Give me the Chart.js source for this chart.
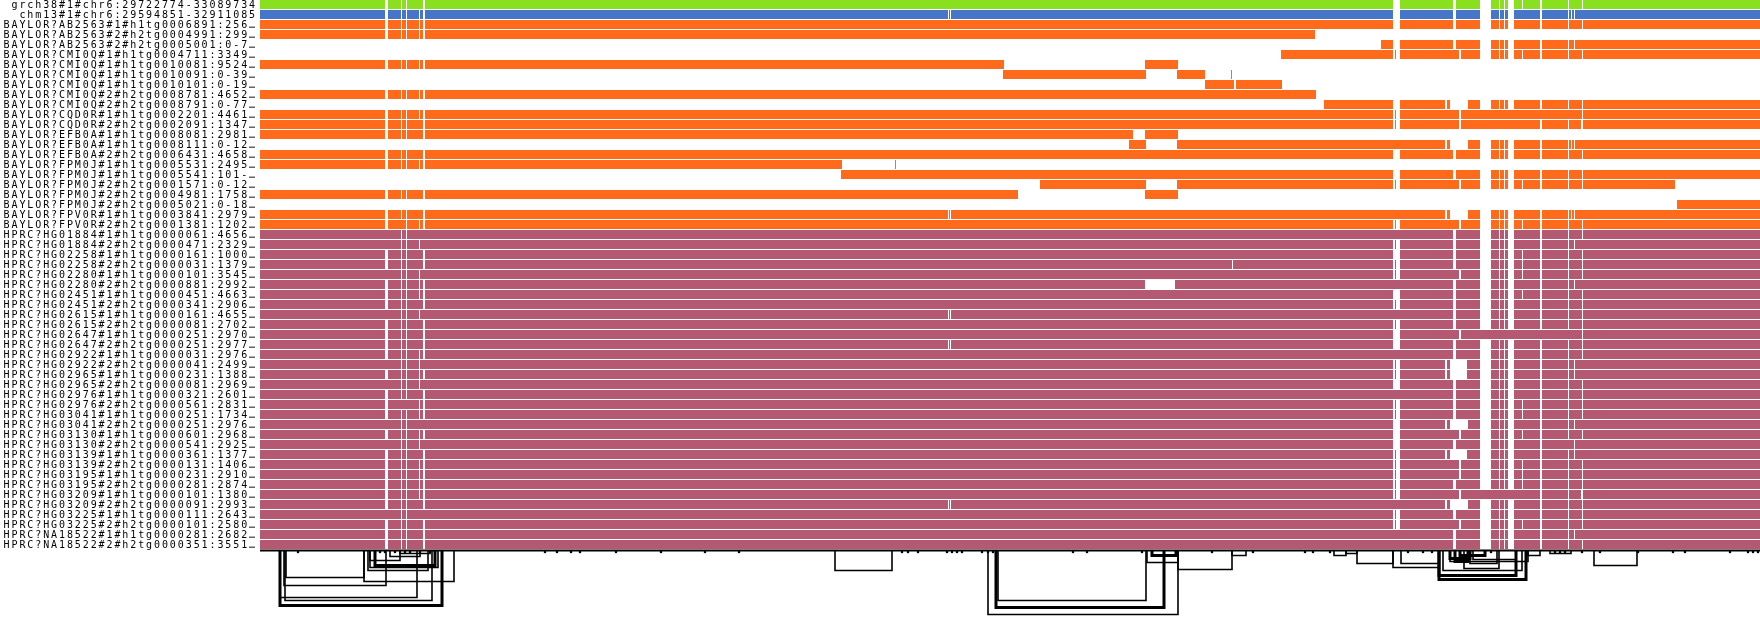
<!DOCTYPE html>
<html><head><meta charset="utf-8">
<script src="https://cdn.jsdelivr.net/npm/chart.js@4.4.1/dist/chart.umd.min.js"></script>
<style>html,body{margin:0;padding:0;background:#fff;}#wrap{width:1760px;height:619px;position:relative;}</style>
</head><body><div id="wrap"><canvas id="c" width="1760" height="619"></canvas></div>
<script>
const binCount = 1500;

const rowLabels = [
"grch38#1#chr6:29722774-33089734",
"chm13#1#chr6:29594851-32911085",
"BAYLOR?AB2563#1#h1tg0006891:256…",
"BAYLOR?AB2563#2#h2tg0004991:299…",
"BAYLOR?AB2563#2#h2tg0005001:0-7…",
"BAYLOR?CMI0Q#1#h1tg0004711:3349…",
"BAYLOR?CMI0Q#1#h1tg0010081:9524…",
"BAYLOR?CMI0Q#1#h1tg0010091:0-39…",
"BAYLOR?CMI0Q#1#h1tg0010101:0-19…",
"BAYLOR?CMI0Q#2#h2tg0008781:4652…",
"BAYLOR?CMI0Q#2#h2tg0008791:0-77…",
"BAYLOR?CQD0R#1#h1tg0002201:4461…",
"BAYLOR?CQD0R#2#h2tg0002091:1347…",
"BAYLOR?EFB0A#1#h1tg0008081:2981…",
"BAYLOR?EFB0A#1#h1tg0008111:0-12…",
"BAYLOR?EFB0A#2#h2tg0006431:4658…",
"BAYLOR?FPM0J#1#h1tg0005531:2495…",
"BAYLOR?FPM0J#1#h1tg0005541:101-…",
"BAYLOR?FPM0J#2#h2tg0001571:0-12…",
"BAYLOR?FPM0J#2#h2tg0004981:1758…",
"BAYLOR?FPM0J#2#h2tg0005021:0-18…",
"BAYLOR?FPV0R#1#h1tg0003841:2979…",
"BAYLOR?FPV0R#2#h2tg0001381:1202…",
"HPRC?HG01884#1#h1tg0000061:4656…",
"HPRC?HG01884#2#h2tg0000471:2329…",
"HPRC?HG02258#1#h1tg0000161:1000…",
"HPRC?HG02258#2#h2tg0000031:1379…",
"HPRC?HG02280#1#h1tg0000101:3545…",
"HPRC?HG02280#2#h2tg0000881:2992…",
"HPRC?HG02451#1#h1tg0000451:4663…",
"HPRC?HG02451#2#h2tg0000341:2906…",
"HPRC?HG02615#1#h1tg0000161:4655…",
"HPRC?HG02615#2#h2tg0000081:2702…",
"HPRC?HG02647#1#h1tg0000251:2970…",
"HPRC?HG02647#2#h2tg0000251:2977…",
"HPRC?HG02922#1#h1tg0000031:2976…",
"HPRC?HG02922#2#h2tg0000041:2499…",
"HPRC?HG02965#1#h1tg0000231:1388…",
"HPRC?HG02965#2#h2tg0000081:2969…",
"HPRC?HG02976#1#h1tg0000321:2601…",
"HPRC?HG02976#2#h2tg0000561:2831…",
"HPRC?HG03041#1#h1tg0000251:1734…",
"HPRC?HG03041#2#h2tg0000251:2976…",
"HPRC?HG03130#1#h1tg0000601:2968…",
"HPRC?HG03130#2#h2tg0000541:2925…",
"HPRC?HG03139#1#h1tg0000361:1377…",
"HPRC?HG03139#2#h2tg0000131:1406…",
"HPRC?HG03195#1#h1tg0000231:2910…",
"HPRC?HG03195#2#h2tg0000281:2874…",
"HPRC?HG03209#1#h1tg0000101:1380…",
"HPRC?HG03209#2#h2tg0000091:2993…",
"HPRC?HG03225#1#h1tg0000111:2643…",
"HPRC?HG03225#2#h2tg0000101:2580…",
"HPRC?NA18522#1#h1tg0000281:2682…",
"HPRC?NA18522#2#h2tg0000351:3551…"
];

const rowGroup = [
"grch38","chm13",
"BAYLOR","BAYLOR","BAYLOR","BAYLOR","BAYLOR","BAYLOR","BAYLOR","BAYLOR","BAYLOR","BAYLOR","BAYLOR",
"BAYLOR","BAYLOR","BAYLOR","BAYLOR","BAYLOR","BAYLOR","BAYLOR","BAYLOR","BAYLOR","BAYLOR",
"HPRC","HPRC","HPRC","HPRC","HPRC","HPRC","HPRC","HPRC","HPRC","HPRC","HPRC","HPRC","HPRC","HPRC","HPRC","HPRC",
"HPRC","HPRC","HPRC","HPRC","HPRC","HPRC","HPRC","HPRC","HPRC","HPRC","HPRC","HPRC","HPRC","HPRC","HPRC","HPRC"
];

// covered bins [start, end] of each path (1500 bins)
const rowSegments = [
[[0,125],[128,141],[142,146],[147,163],[165,1133],[1140,1193],[1196,1220],[1231,1239],[1240,1244],[1245,1248],[1254,1262],[1263,1280],[1282,1308],[1309,1322],[1323,1500]],
[[0,125],[128,141],[142,146],[147,159],[160,163],[165,688],[689,690],[691,1133],[1140,1193],[1196,1220],[1231,1239],[1240,1244],[1245,1248],[1254,1280],[1282,1308],[1309,1311],[1312,1314],[1315,1500]],
[[0,125],[128,141],[142,146],[147,159],[160,163],[165,1133],[1140,1193],[1196,1220],[1231,1239],[1240,1244],[1245,1248],[1254,1280],[1282,1308],[1309,1322],[1323,1500]],
[[0,125],[128,141],[142,146],[147,159],[160,163],[165,1055]],
[[1121,1133],[1140,1193],[1196,1220],[1231,1239],[1240,1244],[1245,1248],[1254,1280],[1282,1308],[1309,1314],[1315,1500]],
[[1021,1133],[1135,1136],[1140,1199],[1201,1220],[1231,1239],[1240,1244],[1245,1248],[1254,1262],[1263,1280],[1282,1308],[1309,1322],[1323,1500]],
[[0,125],[128,141],[142,146],[147,159],[160,163],[165,744],[885,918]],
[[743,886],[917,945],[971,972]],
[[945,974],[976,1022]],
[[0,125],[128,141],[142,146],[147,159],[160,163],[165,1056]],
[[1064,1133],[1140,1185],[1187,1190],[1208,1220],[1231,1239],[1240,1244],[1245,1248],[1254,1280],[1282,1308],[1309,1322],[1323,1500]],
[[0,125],[128,141],[142,146],[147,159],[160,163],[165,1133],[1135,1136],[1140,1199],[1201,1322],[1323,1500]],
[[0,125],[128,141],[142,146],[147,163],[165,1133],[1135,1136],[1140,1199],[1201,1280],[1282,1308],[1309,1321],[1323,1500]],
[[0,125],[128,141],[142,146],[147,163],[165,873],[885,918]],
[[869,886],[917,1185],[1187,1190],[1208,1220],[1231,1239],[1240,1244],[1245,1248],[1254,1280],[1282,1308],[1309,1311],[1312,1314],[1315,1500]],
[[0,125],[128,141],[142,146],[147,163],[165,1133],[1140,1193],[1196,1220],[1231,1239],[1240,1244],[1245,1248],[1254,1280],[1282,1308],[1309,1322],[1323,1500]],
[[0,125],[128,141],[142,146],[147,159],[160,163],[165,582],[635,636]],
[[581,1133],[1140,1193],[1196,1220],[1231,1239],[1240,1244],[1245,1248],[1254,1280],[1282,1308],[1309,1322],[1323,1500]],
[[780,886],[917,1133],[1135,1136],[1140,1199],[1201,1220],[1231,1239],[1240,1244],[1245,1248],[1254,1262],[1263,1280],[1282,1308],[1309,1322],[1323,1415]],
[[0,125],[128,141],[142,146],[147,163],[165,758],[885,918]],
[[1417,1500]],
[[0,125],[128,141],[142,146],[147,163],[165,688],[689,690],[691,1185],[1187,1190],[1208,1220],[1231,1239],[1240,1244],[1245,1248],[1254,1280],[1282,1308],[1309,1311],[1312,1314],[1315,1500]],
[[0,125],[128,146],[147,159],[160,163],[165,1133],[1135,1136],[1140,1199],[1201,1220],[1231,1239],[1240,1244],[1245,1248],[1254,1262],[1263,1280],[1282,1308],[1309,1322],[1323,1500]],
[[0,141],[142,146],[147,1193],[1196,1220],[1231,1239],[1240,1244],[1245,1248],[1254,1280],[1282,1308],[1309,1322],[1323,1500]],
[[0,141],[142,146],[147,159],[160,1133],[1135,1136],[1140,1193],[1196,1220],[1231,1239],[1240,1244],[1245,1248],[1254,1280],[1282,1308],[1309,1314],[1315,1500]],
[[0,125],[128,141],[142,146],[147,163],[165,1133],[1140,1193],[1196,1220],[1231,1239],[1240,1244],[1245,1248],[1254,1262],[1263,1280],[1282,1308],[1309,1322],[1323,1500]],
[[0,125],[128,141],[142,146],[147,163],[165,972],[973,1133],[1135,1136],[1140,1193],[1196,1220],[1231,1239],[1240,1244],[1245,1248],[1254,1262],[1263,1280],[1282,1308],[1309,1322],[1323,1500]],
[[0,141],[142,146],[147,159],[160,1133],[1135,1136],[1140,1199],[1201,1220],[1231,1239],[1240,1244],[1245,1248],[1254,1262],[1263,1280],[1282,1308],[1309,1322],[1323,1500]],
[[0,125],[128,141],[142,146],[147,159],[160,163],[165,885],[915,1193],[1196,1220],[1231,1239],[1240,1244],[1245,1248],[1254,1280],[1282,1308],[1309,1314],[1315,1500]],
[[0,125],[128,141],[142,146],[147,159],[160,163],[165,1133],[1140,1193],[1196,1220],[1231,1239],[1240,1244],[1245,1248],[1254,1262],[1263,1280],[1282,1308],[1309,1322],[1323,1500]],
[[0,125],[128,141],[142,146],[147,163],[165,1133],[1135,1136],[1140,1193],[1196,1220],[1231,1239],[1240,1244],[1245,1248],[1254,1280],[1282,1308],[1309,1322],[1323,1500]],
[[0,141],[142,146],[147,159],[160,688],[689,690],[691,1193],[1196,1220],[1231,1239],[1240,1244],[1245,1248],[1254,1280],[1282,1308],[1309,1322],[1323,1500]],
[[0,125],[128,141],[142,146],[147,163],[165,1133],[1135,1136],[1140,1193],[1196,1220],[1231,1239],[1240,1244],[1245,1248],[1254,1280],[1282,1308],[1309,1322],[1323,1500]],
[[0,125],[128,141],[142,146],[147,163],[165,1133],[1140,1199],[1201,1322],[1323,1500]],
[[0,125],[128,141],[142,146],[147,163],[165,688],[689,690],[691,1133],[1140,1193],[1196,1220],[1231,1239],[1240,1244],[1245,1248],[1254,1280],[1282,1308],[1309,1322],[1323,1500]],
[[0,125],[128,141],[142,146],[147,159],[160,163],[165,1193],[1196,1220],[1231,1239],[1240,1244],[1245,1248],[1254,1280],[1282,1308],[1309,1322],[1323,1500]],
[[0,141],[142,146],[147,159],[160,1133],[1135,1136],[1140,1185],[1187,1190],[1207,1220],[1231,1239],[1240,1244],[1245,1248],[1254,1280],[1282,1308],[1309,1314],[1315,1500]],
[[0,125],[128,141],[142,146],[147,159],[160,163],[165,1133],[1135,1136],[1140,1185],[1187,1190],[1207,1220],[1231,1239],[1240,1244],[1245,1248],[1254,1280],[1282,1308],[1309,1314],[1315,1500]],
[[0,141],[142,146],[147,159],[160,1133],[1140,1193],[1196,1220],[1231,1239],[1240,1244],[1245,1248],[1254,1280],[1282,1308],[1309,1322],[1323,1500]],
[[0,125],[128,141],[142,146],[147,163],[165,1193],[1196,1220],[1231,1239],[1240,1244],[1245,1248],[1254,1280],[1282,1308],[1309,1322],[1323,1500]],
[[0,125],[128,159],[160,163],[165,1133],[1135,1136],[1140,1193],[1196,1220],[1231,1239],[1240,1244],[1245,1248],[1254,1262],[1263,1280],[1282,1308],[1309,1322],[1323,1500]],
[[0,125],[128,141],[142,146],[147,159],[160,163],[165,1133],[1135,1136],[1140,1193],[1196,1220],[1231,1239],[1240,1244],[1245,1248],[1254,1262],[1263,1280],[1282,1308],[1309,1322],[1323,1500]],
[[0,141],[142,146],[147,1133],[1140,1185],[1187,1190],[1208,1220],[1231,1239],[1240,1244],[1245,1248],[1254,1280],[1282,1308],[1309,1314],[1315,1500]],
[[0,125],[128,141],[142,146],[147,159],[160,163],[165,1133],[1140,1199],[1201,1220],[1231,1239],[1240,1244],[1245,1248],[1254,1262],[1263,1280],[1282,1308],[1309,1322],[1323,1500]],
[[0,141],[142,146],[147,159],[160,1133],[1140,1193],[1196,1220],[1231,1239],[1240,1244],[1245,1248],[1254,1280],[1282,1314],[1315,1500]],
[[0,125],[128,141],[142,146],[147,163],[165,1133],[1135,1136],[1140,1185],[1187,1190],[1207,1220],[1231,1239],[1240,1244],[1245,1248],[1254,1280],[1282,1308],[1309,1314],[1315,1500]],
[[0,125],[128,141],[142,146],[147,159],[160,163],[165,1133],[1135,1136],[1140,1199],[1201,1220],[1231,1239],[1240,1244],[1245,1248],[1254,1262],[1263,1280],[1282,1308],[1309,1322],[1323,1500]],
[[0,125],[128,141],[142,146],[147,159],[160,163],[165,1133],[1135,1136],[1140,1199],[1201,1220],[1231,1239],[1240,1244],[1245,1248],[1254,1262],[1263,1280],[1282,1308],[1309,1322],[1323,1500]],
[[0,125],[128,141],[142,146],[147,159],[160,163],[165,1133],[1135,1136],[1140,1193],[1196,1220],[1231,1239],[1240,1244],[1245,1248],[1254,1262],[1263,1280],[1282,1308],[1309,1322],[1323,1500]],
[[0,125],[128,141],[142,146],[147,159],[160,163],[165,1133],[1135,1136],[1140,1199],[1201,1280],[1282,1308],[1309,1321],[1323,1500]],
[[0,125],[128,141],[142,146],[147,163],[165,688],[689,690],[691,1185],[1187,1190],[1208,1220],[1231,1239],[1240,1244],[1245,1248],[1254,1280],[1282,1308],[1309,1322],[1323,1500]],
[[0,141],[142,146],[147,1133],[1135,1136],[1140,1193],[1196,1220],[1231,1239],[1240,1244],[1245,1248],[1254,1280],[1282,1308],[1309,1322],[1323,1500]],
[[0,125],[128,141],[142,146],[147,163],[165,1133],[1135,1136],[1140,1199],[1201,1220],[1231,1239],[1240,1244],[1245,1248],[1254,1262],[1263,1280],[1282,1308],[1309,1322],[1323,1500]],
[[0,125],[128,141],[142,146],[147,163],[165,1193],[1196,1220],[1231,1239],[1240,1244],[1245,1248],[1254,1280],[1282,1308],[1309,1314],[1315,1500]],
[[0,125],[128,141],[142,146],[147,163],[165,1193],[1196,1220],[1231,1239],[1240,1244],[1245,1248],[1254,1280],[1282,1308],[1309,1322],[1323,1500]]
];

// links drawn below the paths: from bin, to bin, depth (in row units), weight
const linkFrom  = [20, 24, 25, 20, 104, 108, 115, 110, 26, 110, 130, 140, 728, 736, 738, 887, 918, 972, 1074, 1086, 1097, 892, 575, 1133, 1141, 1179, 1179, 1183, 1204, 1210, 1213, 1190, 1268, 1334, 1190, 1195, 1290, 1200];
const linkTo    = [182, 126, 172, 157, 194, 168, 175, 178, 104, 140, 160, 170, 918, 904, 886, 918, 972, 986, 1086, 1097, 1133, 916, 632, 1179, 1179, 1266, 1256, 1262, 1239, 1237, 1256, 1268, 1280, 1377, 1210, 1208, 1311, 1225];
const linkDepth = [5.5, 3.5, 5.0, 4.7, 3.1, 2.0, 1.5, 1.7, 2.7, 1.0, 0.6, 0.3, 6.4, 5.7, 5.0, 1.2, 1.9, 0.5, 0.5, 0.3, 1.3, 0.5, 2.0, 1.7, 1.3, 2.9, 2.5, 2.0, 1.8, 1.3, 0.9, 1.1, 0.5, 1.5, 0.8, 1.1, 0.3, 0.5];
const linkWeight = [2, 1, 1, 1, 1, 1, 2, 1, 1, 1, 1, 1, 1, 2, 1, 1, 1, 1, 1, 1, 1, 2, 1, 1, 1, 2, 2, 1, 1, 1, 1, 1, 1, 1, 2, 2, 1, 2];

// small marks along the baseline (bins)
const baselineTicks = [38, 115, 120, 125, 135, 145, 150, 160, 170, 175, 285, 297, 311, 320, 356, 401, 445, 479, 642, 648, 658, 687, 692, 697, 702, 722, 728, 733, 813, 827, 882, 952, 993, 1045, 1053, 1070, 1148, 1163, 1172, 1231, 1295, 1300, 1305, 1322, 1340, 1378, 1413, 1425, 1470, 1488, 1493, 1498];

const groupColor = {grch38:'#88E01E', chm13:'#4676C7', BAYLOR:'#FF6B1A', HPRC:'#B55872'};
const groups = ['grch38','chm13','BAYLOR','HPRC'];
const BASE = rowLabels.length - 1 + 0.6;

const datasets = [];
groups.forEach(g => {
  datasets.push({
    type:'bar', label:g, backgroundColor:groupColor[g], borderWidth:0, inflateAmount:0,
    grouped:false, barPercentage:0.9, categoryPercentage:1.0,
    data: rowSegments.flatMap((segs,i) => rowGroup[i]===g ? segs.map(s => ({y:i, x:[s[0], s[1]]})) : [])
  });
});
const lineCommon = {type:'line', indexAxis:'x', borderColor:'#000', pointRadius:0, pointHoverRadius:0, pointBorderWidth:0, pointHitRadius:0, fill:false, tension:0};
datasets.push(Object.assign({}, lineCommon, {
  data:[{x:0,y:BASE},{x:binCount,y:BASE}], borderWidth:2
}));
linkFrom.forEach((f,k) => {
  const d = BASE + linkDepth[k];
  datasets.push(Object.assign({}, lineCommon, {
    data:[{x:f,y:BASE},{x:f,y:d},{x:linkTo[k],y:d},{x:linkTo[k],y:BASE}],
    borderWidth: linkWeight[k] === 2 ? 3 : 1.6
  }));
});
datasets.push({
  type:'scatter', indexAxis:'x', data: baselineTicks.map(t => ({x:t, y:BASE+0.15})),
  pointStyle:'rect', pointRadius:1.6, pointHoverRadius:0, pointHitRadius:0,
  backgroundColor:'#000', borderWidth:0, showLine:false
});

new Chart(document.getElementById('c'), {
  type:'bar',
  data:{ datasets },
  options:{
    indexAxis:'y',
    responsive:false,
    animation:false,
    events:[],
    layout:{padding:0, autoPadding:false},
    plugins:{legend:{display:false}, tooltip:{enabled:false}},
    scales:{
      x:{type:'linear', min:0, max:binCount, display:false, bounds:'data', offset:false},
      y:{type:'linear', reverse:true, min:-0.45, max:61.45, bounds:'data', position:'left', offset:false,
        grid:{display:false, drawTicks:false, offset:false}, border:{display:false},
        afterBuildTicks: ax => { ax.ticks = rowLabels.map((_, i) => ({value:i})); },
        afterFit: ax => { ax.width = 260; ax.paddingTop = 0; ax.paddingBottom = 0; },
        ticks:{autoSkip:false, padding:3, labelOffset:1, color:'#000',
          font:{family:'"DejaVu Sans Mono", monospace', size:10},
          callback: v => rowLabels[v] ?? ''}
      }
    }
  },
  plugins:[{id:'spacing', beforeDraw(chart){ chart.ctx.letterSpacing = '1.9px'; }, afterDraw(chart){ chart.ctx.letterSpacing = '0px'; }}]
});
</script>
</body></html>
